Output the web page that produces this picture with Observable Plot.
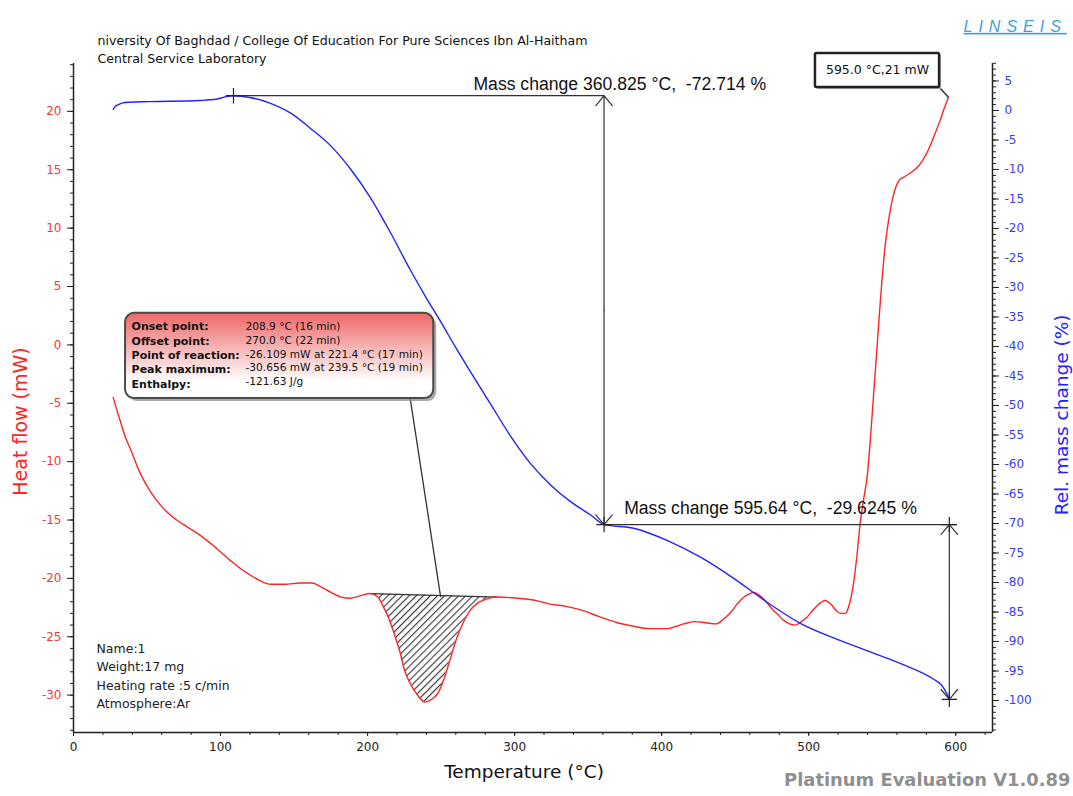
<!DOCTYPE html>
<html>
<head>
<meta charset="utf-8">
<script src="https://cdn.jsdelivr.net/npm/d3@7"></script>
<script src="https://cdn.jsdelivr.net/npm/@observablehq/plot@0.6"></script>
<style>
  html, body { margin: 0; padding: 0; background: #fff; }
  #chart svg { display: block; }
</style>
</head>
<body>
<div id="chart"></div>
<script>
// ---------- DATA ----------
// DSC heat flow (mW) vs temperature (°C)
const dscTemp = [27,30,32,35,39,45,52,59,66,75,86,97,107,114,120,127,134,144,154,162,168,175,182,188,195,202,207,211,215,218,222,225,229,234,239,243,248,252,256,261,265,270,275,280,288,302,315,324,335,345,358,370,381,392,404,410,415,422,430,437,442,447,452,456,460,463,467,471,475,479,483,487,491,495,499,503,508,511,515,519,522,525,527,529,531,533,535,537,540,542,544,546,548,550,552,555,558,561,565,569,573,577,581,585,589,592,595];
const dscHeat = [-4.5,-5.8,-6.6,-7.8,-9.0,-10.9,-12.5,-13.7,-14.6,-15.4,-16.3,-17.4,-18.5,-19.2,-19.7,-20.2,-20.5,-20.5,-20.4,-20.4,-20.7,-21.2,-21.6,-21.7,-21.5,-21.3,-21.6,-22.5,-23.6,-24.7,-26.3,-27.8,-29.0,-30.0,-30.6,-30.4,-29.8,-28.6,-27.0,-25.0,-23.8,-22.7,-22.1,-21.8,-21.6,-21.7,-21.9,-22.2,-22.4,-22.7,-23.3,-23.8,-24.1,-24.3,-24.3,-24.1,-23.9,-23.7,-23.8,-23.9,-23.5,-22.9,-22.1,-21.6,-21.3,-21.2,-21.5,-22.0,-22.6,-23.1,-23.6,-23.9,-24.0,-23.7,-23.3,-22.7,-22.1,-21.9,-22.2,-22.8,-23.0,-23.0,-22.5,-21.5,-20.0,-17.8,-15.3,-13.5,-11.0,-8.0,-4.5,-1.0,2.5,5.8,8.5,11.2,13.0,14.0,14.4,14.7,15.1,15.7,16.6,17.8,19.1,20.2,21.2];

// TG relative mass change (%) vs temperature (°C)
const tgTemp = [27,28.5,30.5,35,52,86,97,103,109,120,134,148,161,175,188,202,216,229,240,250,260,270,284,297,311,325,338,352,361,381,404,427,449,472,495,517,540,563,585,590,593,595.6];
const tgMass = [0.2,0.7,1.0,1.35,1.5,1.7,1.9,2.3,2.5,2.2,1.2,-0.5,-3.0,-6.0,-9.8,-14.8,-20.9,-27.0,-31.8,-35.9,-40.2,-44.3,-49.9,-55.1,-59.9,-63.6,-66.3,-68.6,-70.2,-70.8,-72.9,-75.8,-79.3,-83.4,-87.0,-89.4,-91.6,-93.8,-96.4,-97.3,-98.4,-99.8];

// Peak integration (onset / offset of the hatched baseline)
const peakStart = [202, -21.3];   // [°C, mW]
const peakEnd   = [288, -21.6];
const peakLeader = [249.7, -21.6];

// Mass-change evaluations: [startT, endT, startMass, endMass]
const massChange1 = [108.8, 360.825, 2.5, -70.2];
const massChange2 = [360.825, 595.64, -70.2, -99.8];
const massLabels = ["Mass change 360.825 °C,\u00a0\u00a0-72.714 %", "Mass change 595.64 °C,\u00a0\u00a0-29.6245 %"];

// Tick values
const heatTicks = d3.range(-30, 21, 5);
const heatMinor = d3.range(-33, 25, 1);
const massTicks = d3.range(5, -101, -5);
const massMinor = d3.range(8, -106, -1);
const tempTicks = d3.range(0, 601, 100);
const tempMinor = d3.range(0, 621, 20);

// Texts
const titleLines = ["niversity Of Baghdad / College Of Education For Pure Sciences Ibn Al-Haitham", "Central Service Laboratory"];
const infoLabels = ["Onset point:", "Offset point:", "Point of reaction:", "Peak maximum:", "Enthalpy:"];
const infoValues = ["208.9 °C (16 min)", "270.0 °C (22 min)", "-26.109 mW at 221.4 °C (17 min)", "-30.656 mW at 239.5 °C (19 min)", "-121.63 J/g"];
const sampleInfo = ["Name:1", "Weight:17 mg", "Heating rate :5 c/min", "Atmosphere:Ar"];
const cursorLabel = "595.0 °C,21 mW";
const cursorPoint = [595, 21.2];

// ---------- SCALE HELPERS ----------
const xMax = 625, yMin = -33.2, yMax = 24.1;
const mOff = 20.077, mSc = 0.50535;          // mass % -> heat-flow units (secondary axis)
const m2y = m => mOff + mSc * m;
const y2m = v => (v - mOff) / mSc;

const dsc = dscTemp.map((t, i) => ({t, v: dscHeat[i]}));
const tg = tgTemp.map((t, i) => ({t, v: m2y(tgMass[i])}));
const base = t => peakStart[1] + (t - peakStart[0]) / (peakEnd[0] - peakStart[0]) * (peakEnd[1] - peakStart[1]);
const hatch = dsc.filter(d => d.t >= peakStart[0] && d.t <= peakEnd[0]).map(d => ({t: d.t, v: d.v, b: base(d.t)}));

// ---------- CUSTOM SVG (defs + boxes) ----------
function defsMark() {
  const g = d3.create("svg:g");
  const defs = g.append("defs");
  const grad = defs.append("linearGradient").attr("id", "boxGrad").attr("x1", 0).attr("y1", 0).attr("x2", 0).attr("y2", 1);
  grad.append("stop").attr("offset", "0%").attr("stop-color", "#ee6666");
  grad.append("stop").attr("offset", "80%").attr("stop-color", "#ffffff");
  grad.append("stop").attr("offset", "100%").attr("stop-color", "#ffffff");
  const pat = defs.append("pattern").attr("id", "hatch").attr("patternUnits", "userSpaceOnUse")
    .attr("width", 5).attr("height", 5).attr("patternTransform", "rotate(45)");
  pat.append("rect").attr("width", 5).attr("height", 5).attr("fill", "#fff");
  pat.append("line").attr("x1", 0.5).attr("y1", 0).attr("x2", 0.5).attr("y2", 5).attr("stroke", "#3a3a3a").attr("stroke-width", 1.3);
  return g.node();
}

const infoBox = {t0: 35.4, t1: 245, v0: 2.7, v1: -4.6};
const cursorBox = {t0: 504.6, t1: 589, v0: 24.96, v1: 22.05};

function boxesMark(index, {x, y}) {
  const g = d3.create("svg:g");
  let x0 = x(infoBox.t0), x1 = x(infoBox.t1), y0 = y(infoBox.v0), y1 = y(infoBox.v1);
  g.append("rect").attr("x", x0 + 3).attr("y", y0 + 3).attr("width", x1 - x0).attr("height", y1 - y0)
    .attr("rx", 9).attr("fill", "#8c8c8c").attr("opacity", 0.75);
  g.append("rect").attr("x", x0).attr("y", y0).attr("width", x1 - x0).attr("height", y1 - y0)
    .attr("rx", 9).attr("fill", "url(#boxGrad)").attr("stroke", "#4a4a4a").attr("stroke-width", 2);
  x0 = x(cursorBox.t0); x1 = x(cursorBox.t1); y0 = y(cursorBox.v0); y1 = y(cursorBox.v1);
  g.append("rect").attr("x", x0 + 2).attr("y", y0 + 2).attr("width", x1 - x0).attr("height", y1 - y0)
    .attr("fill", "#aaa");
  g.append("rect").attr("x", x0).attr("y", y0).attr("width", x1 - x0).attr("height", y1 - y0)
    .attr("fill", "#fff").attr("stroke", "#222").attr("stroke-width", 2.5).attr("rx", 1.5);
  return g.node();
}

// ---------- PLOT ----------
const red = "#ff2424", blue = "#2222ff", redText = "#f03a3a", blueText = "#3c3ce8";
const sans = "'Liberation Sans', Arial, sans-serif";
const dv = "'DejaVu Sans', sans-serif";

const mid1 = (massChange1[2] + massChange1[3]) / 2;
const mid2 = (massChange2[2] + massChange2[3]) / 2;
const arrows = [
  {x: massChange1[1], y1: m2y(mid1), y2: m2y(massChange1[2])},
  {x: massChange1[1], y1: m2y(mid1), y2: m2y(massChange1[3])},
  {x: massChange2[1], y1: m2y(mid2), y2: m2y(massChange2[2])},
  {x: massChange2[1], y1: m2y(mid2), y2: m2y(massChange2[3])}
];
const hLines = [
  {x1: massChange1[0], x2: massChange1[1], y: m2y(massChange1[2])},
  {x1: massChange2[0], x2: massChange2[1] + 4, y: m2y(massChange2[2])}
];
const crosses = [
  {t: massChange1[0], v: m2y(massChange1[2])},
  {t: massChange1[1], v: m2y(massChange1[3])},
  {t: massChange2[1], v: m2y(massChange2[2])},
  {t: massChange2[1], v: m2y(massChange2[3])}
];

const chart = Plot.plot({
  width: 1073, height: 796,
  marginLeft: 73, marginRight: 81, marginTop: 63, marginBottom: 64,
  x: {domain: [0, xMax]},
  y: {domain: [yMin, yMax]},
  style: {fontFamily: dv, fontSize: "12px", background: "#fff", overflow: "visible"},
  marks: [
    defsMark,
    Plot.ruleX([0, xMax], {stroke: "#222", strokeWidth: 1.5}),
    Plot.ruleY([yMin], {stroke: "#222", strokeWidth: 1.5}),
    Plot.axisY({ticks: heatMinor, tickSize: 3, tickFormat: () => "", label: null, stroke: "#222"}),
    Plot.axisY({ticks: heatTicks, tickSize: 6, tickPadding: 6, tickFormat: d => String(d), label: null, stroke: "#222", fill: redText, fontSize: 12}),
    Plot.axisY({anchor: "right", ticks: massMinor.map(m2y), tickSize: 3, tickFormat: () => "", label: null, stroke: "#222"}),
    Plot.axisY({anchor: "right", ticks: massTicks.map(m2y), tickSize: 6, tickPadding: 6, tickFormat: v => String(Math.round(y2m(v))), label: null, stroke: "#222", fill: blueText, fontSize: 12}),
    Plot.axisX({ticks: tempMinor, tickSize: 3, tickFormat: () => "", label: null, stroke: "#222"}),
    Plot.axisX({ticks: tempTicks, tickSize: 4, tickPadding: 6, tickFormat: d => String(d), label: null, stroke: "#222", fill: "#222", fontSize: 12}),

    Plot.areaY(hatch, {x: "t", y1: "b", y2: "v", fill: "url(#hatch)", curve: "monotone-x"}),
    Plot.line([peakStart, peakEnd], {x: d => d[0], y: d => d[1], stroke: "#333", strokeWidth: 1.2}),

    Plot.line(dsc, {x: "t", y: "v", stroke: red, strokeWidth: 1.4, curve: "monotone-x"}),
    Plot.line(tg, {x: "t", y: "v", stroke: blue, strokeWidth: 1.4, curve: "monotone-x"}),

    Plot.link(hLines, {x1: "x1", x2: "x2", y1: "y", y2: "y", stroke: "#333", strokeWidth: 1.2}),
    Plot.arrow(arrows, {x1: "x", x2: "x", y1: "y1", y2: "y2", stroke: "#333", strokeWidth: 1.2, headLength: 16, headAngle: 80}),
    Plot.dot(crosses, {x: "t", y: "v", symbol: "plus", r: 5, stroke: "#222", strokeWidth: 1.2}),
    Plot.text([massLabels[0]], {x: 272, y: 22.3, textAnchor: "start", fontSize: 17.6, fontFamily: sans, fill: "#111"}),
    Plot.text([massLabels[1]], {x: 374.5, y: -14.0, textAnchor: "start", fontSize: 17.6, fontFamily: sans, fill: "#111"}),

    Plot.link([{x1: 229, y1: -4.6, x2: peakLeader[0], y2: peakLeader[1]}], {x1: "x1", y1: "y1", x2: "x2", y2: "y2", stroke: "#333", strokeWidth: 1.3}),
    Plot.link([{x1: cursorBox.t1, y1: cursorBox.v1, x2: cursorPoint[0], y2: cursorPoint[1]}], {x1: "x1", y1: "y1", x2: "x2", y2: "y2", stroke: "#333", strokeWidth: 1.5}),
    boxesMark,
    Plot.text([infoLabels.join("\n")], {x: 39.5, y: 2.1, textAnchor: "start", lineAnchor: "top", lineHeight: 1.3, fontSize: 11, fontWeight: "bold", fontFamily: dv, fill: "#111"}),
    Plot.text([infoValues.join("\n")], {x: 117, y: 2.1, textAnchor: "start", lineAnchor: "top", lineHeight: 1.3, fontSize: 10.6, fontFamily: dv, fill: "#111"}),
    Plot.text([cursorLabel], {x: (cursorBox.t0 + cursorBox.t1) / 2, y: (cursorBox.v0 + cursorBox.v1) / 2, fontSize: 12.5, fontFamily: dv, fill: "#111"}),

    Plot.text([sampleInfo.join("\n")], {frameAnchor: "bottom-left", dx: 23, dy: -92, textAnchor: "start", lineAnchor: "top", lineHeight: 1.45, fontSize: 12.5, fontFamily: dv, fill: "#222"}),

    Plot.text([titleLines[0]], {frameAnchor: "top-left", dx: 24, dy: -27, textAnchor: "start", fontSize: 12.6, fontFamily: dv, fill: "#111"}),
    Plot.text([titleLines[1]], {frameAnchor: "top-left", dx: 24, dy: -9, textAnchor: "start", fontSize: 12.6, fontFamily: dv, fill: "#111"}),
    Plot.text(["LINSEIS"], {frameAnchor: "top-right", dx: -29, dy: -43, textAnchor: "start", fontSize: 16, fontStyle: "italic", fontFamily: sans, fill: "#3d9fd6"}),
    Plot.text(["Temperature (°C)"], {frameAnchor: "bottom", dx: -9, dy: 45, fontSize: 18.5, fontFamily: dv, fill: "#111"}),
    Plot.text(["Heat flow (mW)"], {frameAnchor: "left", y: -6.56, dx: -53, rotate: -90, textAnchor: "middle", fontSize: 19, fontFamily: dv, fill: red}),
    Plot.text(["Rel. mass change (%)"], {frameAnchor: "right", y: -6.0, dx: 70, rotate: -90, textAnchor: "middle", fontSize: 18.5, fontFamily: dv, fill: blue}),
    Plot.text(["Platinum Evaluation V1.0.89"], {frameAnchor: "bottom-right", dx: 78, dy: 53, textAnchor: "end", fontSize: 17.9, fontWeight: "bold", fontFamily: dv, fill: "#8f8f8f"})
  ]
});

d3.select(chart).selectAll("text").filter(function() { return this.textContent === "LINSEIS"; })
  .style("text-decoration", "underline").style("letter-spacing", "6px");

document.getElementById("chart").appendChild(chart);
</script>
</body>
</html>
